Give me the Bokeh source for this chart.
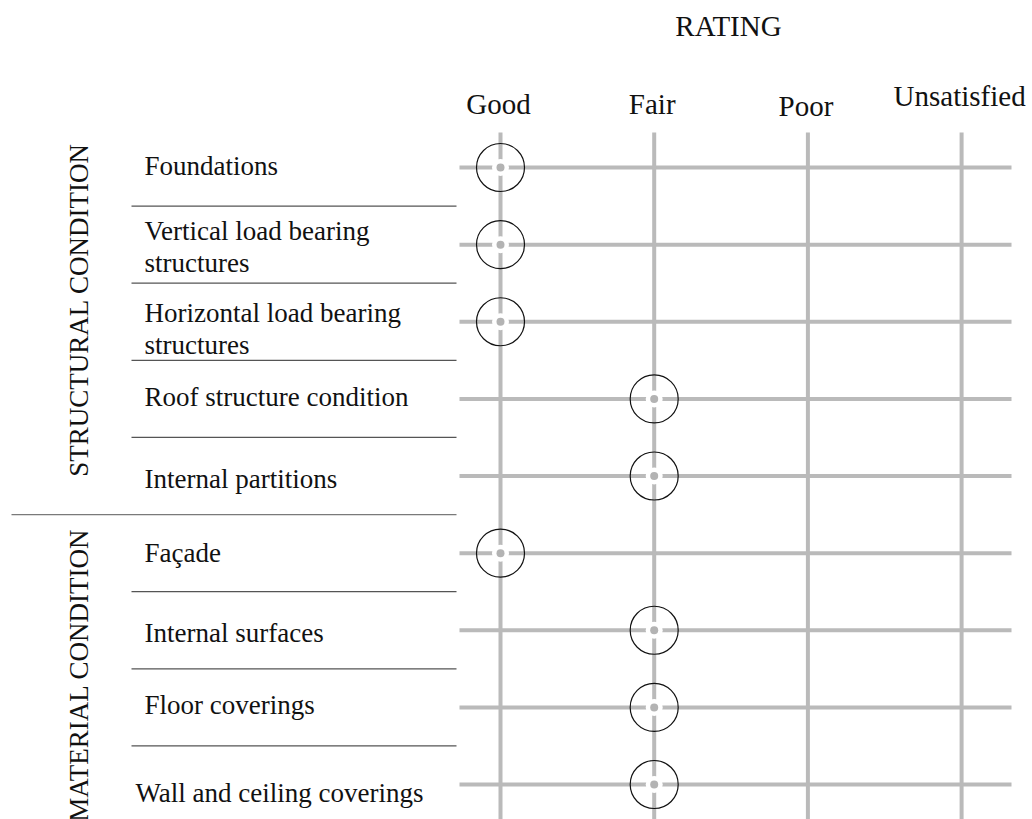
import math
from bokeh.plotting import figure
from bokeh.models import Range1d
from bokeh.core.properties import value
from bokeh.embed import file_html
from bokeh.resources import INLINE

# ---------------- data ----------------
ratings = ["Good", "Fair", "Poor", "Unsatisfied"]
items = [
    "Foundations",
    "Vertical load bearing\nstructures",
    "Horizontal load bearing\nstructures",
    "Roof structure condition",
    "Internal partitions",
    "Façade",
    "Internal surfaces",
    "Floor coverings",
    "Wall and ceiling coverings",
]
groups = ["STRUCTURAL  CONDITION", "MATERIAL CONDITION"]
item_group = [0, 0, 0, 0, 0, 1, 1, 1, 1]
scores = ["Good", "Good", "Good", "Fair", "Fair", "Good", "Fair", "Fair", "Fair"]
title = "RATING"

# ---------------- layout (page pixels -> data) ----------------
X0, DX = 500.0, 153.7      # page x of first rating column, spacing
Y0, DY = 167.0, 77.125     # page y of first row, spacing
W, H = 1032, 819
TB = 10                    # baseline correction (px)

def px_x(px):
    return (px - X0) / DX

def px_y(py):
    return (py - Y0) / DY

FONT = value("Liberation Serif")
GRID = "#bababa"
INK = "#111111"

p = figure(width=W, height=H, output_backend="svg", toolbar_location=None,
           x_range=Range1d(px_x(0), px_x(W)),
           y_range=Range1d(px_y(H), px_y(0)),
           x_axis_location=None, y_axis_location=None,
           min_border=0, outline_line_color=None,
           background_fill_color="white", border_fill_color="white")
p.xgrid.visible = False
p.ygrid.visible = False

n_r = len(ratings)
n_i = len(items)
rows = list(range(n_i))
cols = list(range(n_r))

# grid lines
p.segment(x0=[px_x(459)] * n_i, x1=[px_x(1011)] * n_i, y0=rows, y1=rows,
          line_color=GRID, line_width=4)
p.segment(x0=cols, x1=cols, y0=[px_y(132)] * n_r, y1=[px_y(840)] * n_r,
          line_color=GRID, line_width=4)

# separators between item rows
sep_y = [j + 0.5 for j in range(n_i - 1)]
sep_x0 = [px_x(11) if item_group[j] != item_group[j + 1] else px_x(131) for j in range(n_i - 1)]
sep_col = ["#7a7a7a" if item_group[j] != item_group[j + 1] else "#555555" for j in range(n_i - 1)]
p.segment(x0=sep_x0, x1=[px_x(456)] * len(sep_y), y0=sep_y, y1=sep_y,
          line_color=sep_col, line_width=1.2)

# markers
sx = [ratings.index(s) for s in scores]
p.scatter(x=sx, y=rows, size=17, marker="circle", fill_color="white", line_color=None)
p.scatter(x=sx, y=rows, size=8, marker="circle", fill_color="#b3b3b3", line_color=None)
p.scatter(x=sx, y=rows, size=48, marker="circle", fill_color=None,
          line_color=INK, line_width=1.2)

# column headers
head_dy = [113, 113, 115, 105]   # baseline page y
p.text(x=cols, y=[px_y(v - TB) for v in head_dy], text=ratings, x_offset=-2,
       text_font=FONT, text_font_size="29px", text_align="center",
       text_baseline="alphabetic", text_color=INK)

# title
p.text(x=[px_x(728)], y=[px_y(35 - TB)], text=[title], text_font=FONT,
       text_font_size="29px", text_align="center", text_baseline="alphabetic",
       text_color=INK)

# item labels (baseline offsets from row centre, in px)
label_dy = [8, -4, 1, 8, 12.5, 10, 13, 8, 18]
lx, ly, lt = [], [], []
for j, name in enumerate(items):
    for k, line in enumerate(name.split("\n")):
        lx.append(px_x(144 if j != n_i - 1 else 135))
        ly.append(px_y(Y0 + DY * j + label_dy[j] + 32 * k - TB))
        lt.append(line)
p.text(x=lx, y=ly, text=lt, text_font=FONT, text_font_size="27px",
       text_align="left", text_baseline="alphabetic", text_color=INK)

# group labels (rotated)
p.text(x=[px_x(88 - TB)], y=[px_y(306)], text=[groups[0]], angle=math.pi / 2,
       text_font=FONT, text_font_size="27px", text_align="center",
       text_baseline="alphabetic", text_color=INK)
p.text(x=[px_x(88 - TB)], y=[px_y(528)], text=[groups[1]], angle=math.pi / 2,
       text_font=FONT, text_font_size="27px", text_align="right",
       text_baseline="alphabetic", text_color=INK)

open("out.html", "w").write(file_html(p, INLINE))
